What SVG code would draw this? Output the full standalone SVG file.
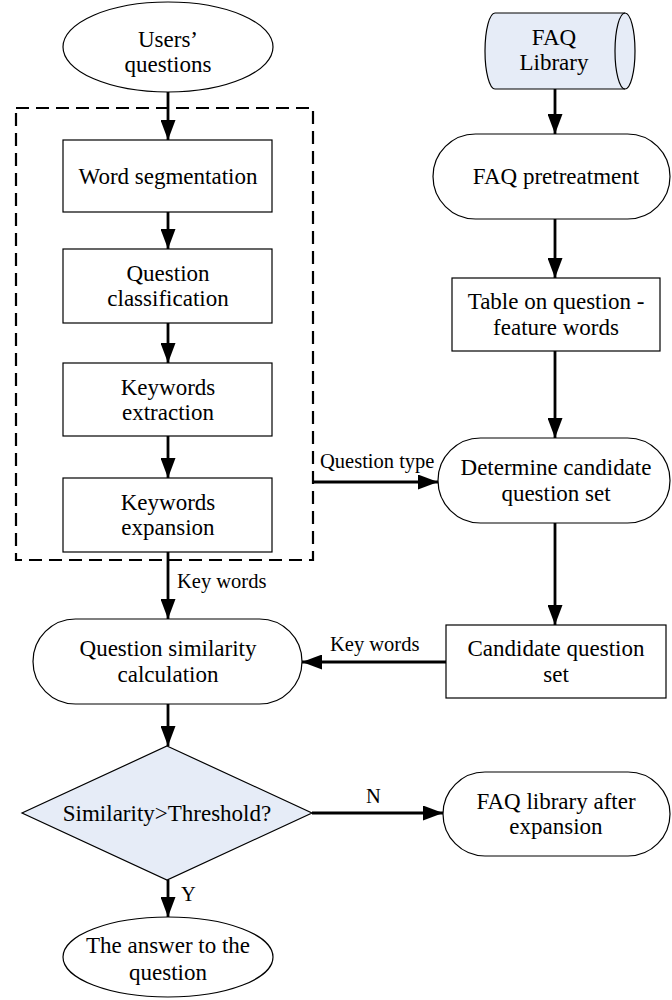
<svg xmlns="http://www.w3.org/2000/svg" width="672" height="1000" viewBox="0 0 672 1000">
<style>
.n{fill:#fff;stroke:#000;stroke-width:1.2}
.b{fill:#e6ecf7;stroke:#000;stroke-width:1.2}
.t{font-family:"Liberation Serif","Times New Roman",serif;font-size:23px;fill:#000;text-anchor:middle}
.l{font-family:"Liberation Serif","Times New Roman",serif;font-size:20.5px;fill:#000}
.c{fill:none;stroke:#000;stroke-width:2.8}
</style>
<defs>
<marker id="ah" markerUnits="userSpaceOnUse" markerWidth="20" markerHeight="15" refX="20" refY="7.5" orient="auto">
<path d="M0,0 L20,7.5 L0,15 Z" fill="#000"/>
</marker>
</defs>
<rect x="16" y="108" width="297" height="452" fill="none" stroke="#000" stroke-width="2.2" stroke-dasharray="13,7"/>
<g id="users"><ellipse class="n" cx="168" cy="47" rx="105" ry="45"/><text class="t" x="168" y="47">Users’</text><text class="t" x="168" y="72">questions</text></g>
<g id="wordseg"><rect class="n" x="63" y="140" width="209" height="72"/><text class="t" x="168" y="184">Word segmentation</text></g>
<g id="qclass"><rect class="n" x="63" y="249" width="209" height="74"/><text class="t" x="168" y="281">Question</text><text class="t" x="168" y="306">classification</text></g>
<g id="kwext"><rect class="n" x="63" y="363" width="209" height="73"/><text class="t" x="168" y="395">Keywords</text><text class="t" x="168" y="420">extraction</text></g>
<g id="kwexp"><rect class="n" x="63" y="478" width="209" height="74"/><text class="t" x="168" y="510">Keywords</text><text class="t" x="168" y="535">expansion</text></g>
<g id="qsim"><rect class="n" x="33" y="619" width="269" height="85" rx="42.5"/><text class="t" x="168" y="656">Question similarity</text><text class="t" x="168" y="682">calculation</text></g>
<g id="decision"><polygon class="b" points="167,746 312,813 167,880 22,813"/><text class="t" x="167" y="821">Similarity&gt;Threshold?</text></g>
<g id="answer"><ellipse class="n" cx="168" cy="957" rx="105" ry="40"/><text class="t" x="168" y="953">The answer to the</text><text class="t" x="168" y="980">question</text></g>
<g id="faqlib"><path class="b" d="M495,13 L625,13 A10,38 0 0 1 625,89 L495,89 A10,38 0 0 1 495,13 Z"/><path fill="none" stroke="#000" stroke-width="1.2" d="M625,13 A10,38 0 0 0 625,89"/><text class="t" x="554" y="45">FAQ</text><text class="t" x="554" y="70">Library</text></g>
<g id="faqpre"><rect class="n" x="433" y="134" width="237" height="85" rx="42.5"/><text class="t" x="556" y="184">FAQ pretreatment</text></g>
<g id="table"><rect class="n" x="452" y="278" width="208" height="73"/><text class="t" x="556" y="309">Table on question -</text><text class="t" x="556" y="335">feature words</text></g>
<g id="determine"><rect class="n" x="438" y="438" width="232" height="85" rx="42.5"/><text class="t" x="556" y="475">Determine candidate</text><text class="t" x="556" y="501">question set</text></g>
<g id="candidate"><rect class="n" x="446" y="625" width="220" height="73"/><text class="t" x="556" y="656">Candidate question</text><text class="t" x="556" y="682">set</text></g>
<g id="faqafter"><rect class="n" x="443" y="772" width="227" height="84" rx="42"/><text class="t" x="556" y="809">FAQ library after</text><text class="t" x="556" y="834">expansion</text></g>
<g id="connectors">
<line class="c" x1="168" y1="92" x2="168" y2="140" marker-end="url(#ah)"/>
<line class="c" x1="168" y1="212" x2="168" y2="249" marker-end="url(#ah)"/>
<line class="c" x1="168" y1="323" x2="168" y2="363" marker-end="url(#ah)"/>
<line class="c" x1="168" y1="436" x2="168" y2="478" marker-end="url(#ah)"/>
<line class="c" x1="168" y1="552" x2="168" y2="619" marker-end="url(#ah)"/>
<line class="c" x1="168" y1="704" x2="168" y2="746" marker-end="url(#ah)"/>
<line class="c" x1="168" y1="880" x2="168" y2="917" marker-end="url(#ah)"/>
<line class="c" x1="312" y1="813" x2="443" y2="813" marker-end="url(#ah)"/>
<line class="c" x1="555" y1="89" x2="555" y2="134" marker-end="url(#ah)"/>
<line class="c" x1="555" y1="219" x2="555" y2="278" marker-end="url(#ah)"/>
<line class="c" x1="555" y1="351" x2="555" y2="438" marker-end="url(#ah)"/>
<line class="c" x1="555" y1="523" x2="555" y2="625" marker-end="url(#ah)"/>
<line class="c" x1="313" y1="482" x2="438" y2="482" marker-end="url(#ah)"/>
<line class="c" x1="446" y1="662" x2="302" y2="662" marker-end="url(#ah)"/>
<text class="l" x="320" y="468">Question type</text>
<text class="l" x="177" y="588">Key words</text>
<text class="l" x="330" y="651">Key words</text>
<text class="l" x="366" y="803">N</text>
<text class="l" x="181" y="901">Y</text>
</g>
</svg>
